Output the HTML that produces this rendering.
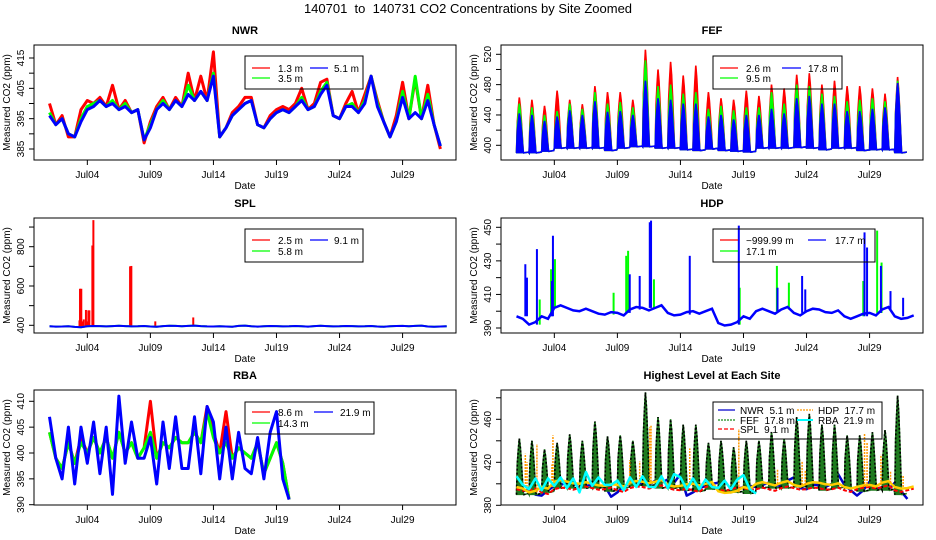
<!DOCTYPE html>
<html><head><meta charset="utf-8"><style>
html,body{margin:0;padding:0;background:#fff;}
svg{display:block;font-family:"Liberation Sans",sans-serif;}
text{fill:#000;}
</style></head><body>
<svg id="chart" width="936" height="540" viewBox="0 0 936 540" xmlns="http://www.w3.org/2000/svg">
<text x="468" y="13" font-size="13" text-anchor="middle" style="white-space:pre" xml:space="preserve">140701  to  140731 CO2 Concentrations by Site Zoomed</text>
</svg>
<script>
// ---- data ----
const xTickLabels = ["Jul04","Jul09","Jul14","Jul19","Jul24","Jul29"];
const xTickDays = [3,8,13,18,23,28];
// NWR half-day values
const nwrBlue = [396,393,395,390,389,394,398,399,401,399,400,398,399,397,398,388,392,398,400,398,401,399,403,401,404,401,409,389,392,396,398,400,401,393,392,395,397,398,397,399,401,398,399,403,406,396,395,399,399,397,400,409,399,394,389,394,402,395,397,395,401,393,386];
const nwrGreen = [397,393,395,390,389,395,399,400,401,399,401,398,400,397,398,388,393,398,401,398,401,399,406,401,404,401,410,389,392,396,398,400,401,393,392,395,397,398,397,399,402,398,399,404,407,396,395,399,400,397,401,409,400,394,389,394,404,395,409,395,403,393,386];
const nwrRed = [400,393,396,389,389,398,401,400,402,399,406,398,401,397,398,387,394,399,402,398,402,399,410,401,409,401,417,389,392,397,399,402,402,393,392,396,398,399,398,400,405,398,400,407,408,396,395,400,404,397,403,409,401,394,389,396,407,395,408,395,406,393,385];
// FEF per day
const fefRed = [463,460,452,472,460,454,478,470,470,460,526,500,510,492,505,470,462,460,472,465,480,475,493,495,480,485,478,478,475,468,490];
const fefGreen = [455,450,440,445,455,448,470,455,457,450,512,478,480,468,470,448,452,446,450,450,470,455,480,478,468,465,458,460,462,458,485];
const fefBlue = [442,440,432,438,446,440,458,444,445,440,485,462,460,455,455,438,440,434,440,440,448,442,462,465,455,455,445,445,448,450,482];
const fefLow = [390,390,392,396,396,396,396,393,396,398,398,396,396,394,393,395,393,392,391,396,396,396,397,396,394,396,396,393,394,394,390];
// SPL
const splBase = [395,394,392,395,396,396,396,395,394,396,397,397,396,394,394,397,395,395,396,395,395,396,396,395,396,395,394,395,397,397,394,394];
const splSpikeDays = [2.38,2.42,2.52,2.6,2.72,2.89,3.0,3.08,3.16,3.40,3.48,6.39,6.49,8.39,11.4];
const splSpikeVals = [425,586,586,420,430,478,420,476,476,806,935,700,702,420,440];
// HDP
const hdpBase = [397,392,397,402,402,400,400,398,399,401,402,402,399,398,400,400,393,392,397,400,400,401,399,400,401,399,397,397,399,401,397,396];
const hdpGreenDays = [1.84,2.74,3.05,7.7,8.7,8.85,10.9,17.7,20.65,21.6,27.5,28.6,28.95];
const hdpGreenVals = [407,425,431,411,433,436,419,414,427,417,418,448,429];
const hdpBlueDays = [0.70,0.83,1.62,2.81,2.89,8.98,9.77,10.57,10.67,13.74,17.63,20.7,22.65,22.9,27.6,27.8,28.9,29.66,30.66];
const hdpBlueVals = [428,420,437,418,445,422,421,453,454,433,451,414,421,413,447,438,427,412,408];
// RBA half-day values
const rbaBlue = [407,399,395,405,394,405,398,406,396,405,392,411,398,406,399,399,403,394,406,397,407,397,397,407,396,409,406,395,405,395,404,397,396,403,395,404,408,395,391];
const rbaGreen = [404,399,397,402,398,402,400,403,400,403,399,404,400,402,399,401,404,399,402,401,403,402,402,404,402,408,403,400,402,399,401,400,399,402,396,399,402,398,391];
const rbaRed = [404,399,397,402,398,403,400,403,400,403,399,404,400,402,399,401,410,399,402,401,403,402,402,404,402,409,404,400,408,399,401,400,399,402,396,399,402,398,391];
</script>
<script>
const NS = "http://www.w3.org/2000/svg";
const svg = document.getElementById('chart');
function mk(tag, attrs, parent){
  const e = document.createElementNS(NS, tag);
  for (const k in attrs) e.setAttribute(k, attrs[k]);
  (parent||svg).appendChild(e);
  return e;
}
function makePanel(name, title, bx0, by0, by1, v1, y1, v2, y2, ticks, labels){
  const bx1 = bx0 + 422;
  const g = mk('g', {});
  
  
  const cid = 'clip-' + name;
  const cp = mk('clipPath', {id: cid}, g);
  mk('rect', {x: bx0, y: by0, width: bx1 - bx0, height: by1 - by0}, cp);
  const plot = mk('g', {'clip-path': 'url(#' + cid + ')'}, g);
  
  
  const X = d => bx0 + 15.5 + d * 12.61;
  const Y = v => y1 + (v - v1) * (y2 - y1) / (v2 - v1);
  const t = mk('text', {x: (bx0 + bx1) / 2, y: by0 - 11, 'font-size': 11, 'font-weight': 'bold', 'text-anchor': 'middle'}, g);
  t.textContent = title;
  
  
  for (let i = 0; i < xTickDays.length; i++) {
    const tx = X(xTickDays[i]);
    const tk = mk('line', {x1: tx, x2: tx, y1: by1, y2: by1 + 5, stroke: '#000'}, g);
    
    
    const tl = mk('text', {x: tx, y: by1 + 18, 'font-size': 10, 'text-anchor': 'middle'}, g);
    tl.textContent = xTickLabels[i];
    
    
  }
  const xt = mk('text', {x: (bx0 + bx1) / 2, y: by1 + 29, 'font-size': 10, 'text-anchor': 'middle'}, g);
  xt.textContent = 'Date';
  
  
  for (const v of ticks) {
    const ty = Y(v);
    const tk = mk('line', {x1: bx0 - 5, x2: bx0, y1: ty, y2: ty, stroke: '#000'}, g);
    
    
  }
  for (const v of labels) {
    const ty = Y(v);
    const tl = mk('text', {x: 0, y: 0, 'font-size': 10, 'text-anchor': 'middle', transform: 'translate(' + (bx0 - 10) + ',' + ty + ') rotate(-90)'}, g);
    tl.textContent = String(v);
    
    
  }
  const yt = mk('text', {x: 0, y: 0, 'font-size': 10, 'text-anchor': 'middle', transform: 'translate(' + (bx0 - 24) + ',' + ((by0 + by1) / 2) + ') rotate(-90)'}, g);
  yt.textContent = 'Measured CO2 (ppm)';
  
  
  const box = mk('rect', {x: bx0, y: by0, width: bx1 - bx0, height: by1 - by0, fill: 'none', stroke: '#000'}, g);
  
  
  return {g, plot, X, Y};
}
function halfDayLine(P, arr, color, w, parent, extra){
  const pts = arr.map((v, i) => P.X(i * 0.5).toFixed(1) + ',' + P.Y(v).toFixed(1)).join(' ');
  const a = {points: pts, fill: 'none', stroke: color, 'stroke-width': w, 'stroke-linejoin': 'round'};
  if (extra) for (const k in extra) a[k] = extra[k];
  return mk('polyline', a, parent || P.plot);
}
function fefShape(P, peaks, color, parent, noFill, extra){
  const grp = mk('g', {}, parent || P.plot);
  let line = [];
  for (let i = 0; i < peaks.length; i++) {
    const lo = fefLow[i], pk = peaks[i], d = pk - lo;
    const pts = [[i + 0.0, lo], [i + 0.06, lo + 0.55 * d], [i + 0.14, lo + 0.8 * d], [i + 0.22, pk], [i + 0.3, lo + 0.85 * d], [i + 0.38, lo + 0.6 * d], [i + 0.46, lo + 0.3 * d], [i + 0.53, lo + 2], [i + 0.58, lo]];
    const s = pts.map(p => P.X(p[0]).toFixed(1) + ',' + P.Y(p[1]).toFixed(1)).join(' ');
    if (!noFill) mk('polygon', {points: s, fill: color, stroke: color, 'stroke-width': 1}, grp);
    line.push(s);
    line.push(P.X(i + 0.95).toFixed(1) + ',' + P.Y(lo + 1).toFixed(1));
  }
  const a = {points: line.join(' '), fill: 'none', stroke: color, 'stroke-width': 1.6};
  if (extra) for (const k in extra) a[k] = extra[k];
  mk('polyline', a, grp);
  return grp;
}
function dailyBase(P, base, color, w, parent, extra){
  const pts = [];
  for (let i = 0; i < base.length; i++) {
    pts.push(P.X(i).toFixed(1) + ',' + P.Y(base[i]).toFixed(1));
    pts.push(P.X(i + 0.5).toFixed(1) + ',' + P.Y(base[i] + ((i % 2) ? 1.5 : -1.5)).toFixed(1));
  }
  const a = {points: pts.join(' '), fill: 'none', stroke: color, 'stroke-width': w};
  if (extra) for (const k in extra) a[k] = extra[k];
  return mk('polyline', a, parent || P.plot);
}
function spikes(P, days, vals, base, color, w, parent, extra){
  const grp = mk('g', {}, parent || P.plot);
  for (let i = 0; i < days.length; i++) {
    const b = base[Math.floor(days[i])];
    const a = {x1: P.X(days[i]), x2: P.X(days[i]), y1: P.Y(b), y2: P.Y(vals[i]), stroke: color, 'stroke-width': w};
    if (extra) for (const k in extra) a[k] = extra[k];
    mk('line', a, grp);
  }
  return grp;
}
function legend(g, x0, y0, x1, y1, entries){
  const lg = mk('g', {}, g);
  
  
  mk('rect', {x: x0, y: y0, width: x1 - x0, height: y1 - y0, fill: 'none', stroke: '#000'}, lg);
  for (const e of entries) {
    const ent = mk('g', {}, lg);
    
    
    const la = {x1: e[0], x2: e[1], y1: e[3], y2: e[3], stroke: e[4], 'stroke-width': e[6] || 1.2};
    if (e[7]) la['stroke-dasharray'] = e[7];
    mk('line', la, ent);
    const tx = mk('text', {x: e[2], y: e[3] + 4, 'font-size': 10, 'xml:space': 'preserve'}, ent);
    tx.style.whiteSpace = 'pre';
    tx.textContent = e[5];
  }
}
// ---- NWR ----
const pN = makePanel('nwr', 'NWR', 34, 45, 160, 385, 149, 415, 58, [385,390,395,400,405,410,415], [385,395,405,415]);
let s = halfDayLine(pN, nwrRed, '#ff0000', 3);


s = halfDayLine(pN, nwrGreen, '#00ff00', 3);


s = halfDayLine(pN, nwrBlue, '#0000ff', 3);


legend(pN.g, 245, 56, 363, 89, [[252,270,278,68,'#f00','1.3 m'],[252,270,278,78,'#0f0','3.5 m'],[310,328,334,68,'#00f','5.1 m']]);
// ---- FEF ----
const pF = makePanel('fef', 'FEF', 501, 45, 160, 400, 145.3, 520, 54.3, [400,420,440,460,480,500,520], [400,440,480,520]);
s = fefShape(pF, fefRed, '#ff0000');


s = fefShape(pF, fefGreen, '#00ff00');


s = fefShape(pF, fefBlue, '#0000ff');


legend(pF.g, 713, 56, 842, 89, [[720,738,746,68,'#f00','2.6 m'],[720,738,746,78,'#0f0','9.5 m'],[782,801,808,68,'#00f','17.8 m']]);
// ---- SPL ----
const pS = makePanel('spl', 'SPL', 34, 218, 333, 400, 325.3, 800, 246.7, [400,500,600,700,800,900], [400,600,800]);
s = spikes(pS, splSpikeDays, splSpikeVals, splBase, '#ff0000', 2);


s = dailyBase(pS, splBase, '#00ff00', 2);


s = dailyBase(pS, splBase, '#0000ff', 2);


legend(pS.g, 245, 229, 363, 262, [[252,270,278,240,'#f00','2.5 m'],[252,270,278,251,'#0f0','5.8 m'],[310,328,334,240,'#00f','9.1 m']]);
// ---- HDP ----
const pH = makePanel('hdp', 'HDP', 501, 218, 333, 390, 328, 450, 227.3, [390,400,410,420,430,440,450], [390,410,430,450]);
s = spikes(pH, hdpGreenDays, hdpGreenVals, hdpBase, '#00ff00', 2);


s = dailyBase(pH, hdpBase, '#0000ff', 2.5);


s = spikes(pH, hdpBlueDays, hdpBlueVals, hdpBase, '#0000ff', 2);


legend(pH.g, 713, 229, 875, 262, [[720,738,746,240,'#f00','\u2212999.99 m'],[720,738,746,251,'#0f0','17.1 m'],[808,826,835,240,'#00f','17.7 m']]);
// ---- RBA ----
const pR = makePanel('rba', 'RBA', 34, 390, 505, 390, 504.7, 410, 401.3, [390,395,400,405,410], [390,395,400,405,410]);
s = halfDayLine(pR, rbaRed, '#ff0000', 3);


s = halfDayLine(pR, rbaGreen, '#00ff00', 3);


s = halfDayLine(pR, rbaBlue, '#0000ff', 3);


legend(pR.g, 245, 402, 374, 434, [[252,270,278,412,'#f00','8.6 m'],[252,270,278,423,'#0f0','14.3 m'],[314,333,340,412,'#00f','21.9 m']]);
// ---- Highest ----
const pA = makePanel('highest', 'Highest Level at Each Site', 501, 390, 505, 380, 505.3, 460, 419.3, [380,400,420,440,460,480], [380,420,460]);
s = halfDayLine(pA, nwrBlue, '#0000cc', 2.5);


s = fefShape(pA, fefBlue, '#1f7a1f');


s = fefShape(pA, fefBlue, '#000000', null, true, {'stroke-dasharray': '2,2'});


s = dailyBase(pA, splBase, '#ff0000', 2, null, {'stroke-dasharray': '4,2'});


s = dailyBase(pA, hdpBase, '#ffcc00', 2.5);


s = spikes(pA, hdpBlueDays, hdpBlueVals, hdpBase, '#ff9900', 1.5, null, {'stroke-dasharray': '2,1'});


s = halfDayLine(pA, rbaBlue, '#00ffff', 2.5);


legend(pA.g, 713, 402, 882, 439, [
  [718,735,740,410,'#0000cc','NWR  5.1 m'],
  [718,735,740,420,'#1a8a1a','FEF  17.8 m',1.2,'2,1'],
  [718,735,740,429,'#ff0000','SPL  9.1 m',1.2,'4,2'],
  [797,813,818,410,'#ff9900','HDP  17.7 m',1.2,'2,1'],
  [797,813,818,420,'#00ffff','RBA  21.9 m',2]
]);
</script>
</body></html>
